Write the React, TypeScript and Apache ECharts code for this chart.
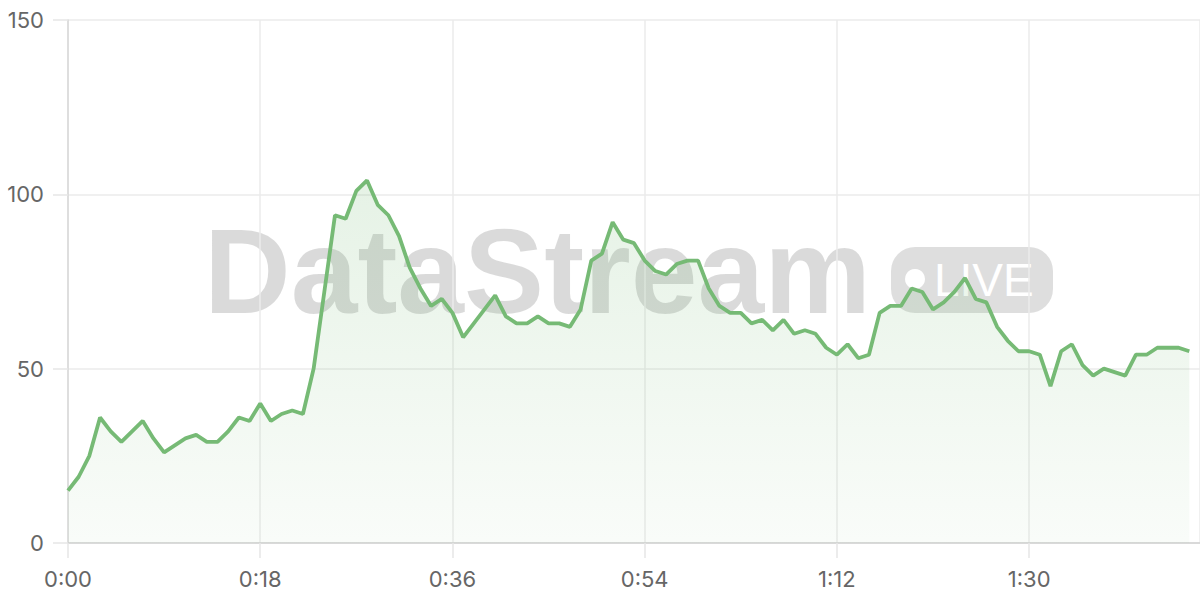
import React, { useEffect, useRef } from "react";
import * as echarts from "echarts";

// seconds elapsed (one sample per second) and measured values
const values: number[] = [
  15, 19, 25, 36, 32, 29, 32, 35, 30, 26,
  28, 30, 31, 29, 29, 32, 36, 35, 40, 35,
  37, 38, 37, 50, 72, 94, 93, 101, 104, 97,
  94, 88, 79, 73, 68, 70, 66, 59, 63, 67,
  71, 65, 63, 63, 65, 63, 63, 62, 67, 81,
  83, 92, 87, 86, 81, 78, 77, 80, 81, 81,
  73, 68, 66, 66, 63, 64, 61, 64, 60, 61,
  60, 56, 54, 57, 53, 54, 66, 68, 68, 73,
  72, 67, 69, 72, 76, 70, 69, 62, 58, 55,
  55, 54, 45, 55, 57, 51, 48, 50, 49, 48,
  54, 54, 56, 56, 56, 55,
];
const seconds: number[] = values.map((_, i) => i);

const xTickValues: number[] = [0, 18, 36, 54, 72, 90];
const xTickLabels: string[] = ["0:00", "0:18", "0:36", "0:54", "1:12", "1:30"];
const yTickLabels: string[] = ["0", "50", "100", "150"];

const watermarkTitle = "DataStream";
const watermarkBadge = "LIVE";

export default function App() {
  const ref = useRef<HTMLDivElement>(null);
  useEffect(() => {
    if (!ref.current) return;
    const chart = echarts.init(ref.current, undefined, { renderer: "svg" });
    const labelFont = "Inter, 'Liberation Sans', Arial, sans-serif";
    const gridColor = "#ebebeb";
    chart.setOption({
      animation: false,
      grid: { left: 68, right: 0, top: 20, bottom: 57, containLabel: false },
      graphic: [
        {
          type: "text",
          z: 0,
          silent: true,
          x: 204,
          y: 271,
          style: {
            text: watermarkTitle,
            font: "bold 120px 'Liberation Sans', Arial, sans-serif",
            fill: "rgba(0,0,0,0.145)",
            verticalAlign: "middle",
            align: "left",
          },
        },
        {
          type: "rect",
          z: 0,
          silent: true,
          shape: { x: 891, y: 247, width: 162, height: 66, r: 24 },
          style: { fill: "rgba(0,0,0,0.13)" },
        },
        {
          type: "circle",
          z: 0,
          silent: true,
          shape: { cx: 915, cy: 279, r: 10 },
          style: { fill: "#ffffff" },
        },
        {
          type: "text",
          z: 0,
          silent: true,
          x: 934,
          y: 280,
          style: {
            text: watermarkBadge,
            font: "46px 'Liberation Sans', Arial, sans-serif",
            fill: "#ffffff",
            verticalAlign: "middle",
            align: "left",
          },
        },
      ],
      xAxis: {
        type: "value",
        min: 0,
        max: 106,
        interval: 18,
        axisLine: { show: true, lineStyle: { color: "#d2d2d2", width: 1.5 } },
        axisTick: { show: true, length: 15, lineStyle: { color: "#e6e6e6", width: 1.5 } },
        splitLine: { show: true, lineStyle: { color: gridColor, width: 1.5 } },
        axisLabel: {
          margin: 25,
          fontSize: 22,
          color: "#666666",
          fontFamily: labelFont,
          showMaxLabel: false,
          formatter: (v: number) => {
            const idx = xTickValues.indexOf(v);
            return idx >= 0 ? xTickLabels[idx] : "";
          },
        },
      },
      yAxis: {
        type: "value",
        min: 0,
        max: 150,
        interval: 50,
        axisLine: { show: true, lineStyle: { color: "#d8d8d8", width: 1.5 } },
        axisTick: { show: true, length: 15, lineStyle: { color: "#e6e6e6", width: 1.5 } },
        splitLine: { show: true, lineStyle: { color: gridColor, width: 1.5 } },
        axisLabel: {
          margin: 24,
          fontSize: 22,
          color: "#666666",
          fontFamily: labelFont,
          formatter: (v: number) => yTickLabels[Math.round(v / 50)] ?? String(v),
        },
      },
      series: [
        {
          type: "line",
          data: seconds.map((s, i) => [s, values[i]]),
          showSymbol: false,
          symbol: "none",
          smooth: false,
          z: 2,
          lineStyle: { color: "#76ba75", width: 3.8 },
          areaStyle: {
            color: new echarts.graphic.LinearGradient(0, 0, 0, 1, [
              { offset: 0, color: "rgba(116,185,115,0.26)" },
              { offset: 1, color: "rgba(116,185,115,0.06)" },
            ]),
          },
        },
      ],
    });
    return () => chart.dispose();
  }, []);
  return (
    <div
      ref={ref}
      style={{ position: "fixed", left: 0, top: 0, width: 1200, height: 600, background: "#ffffff" }}
    />
  );
}
